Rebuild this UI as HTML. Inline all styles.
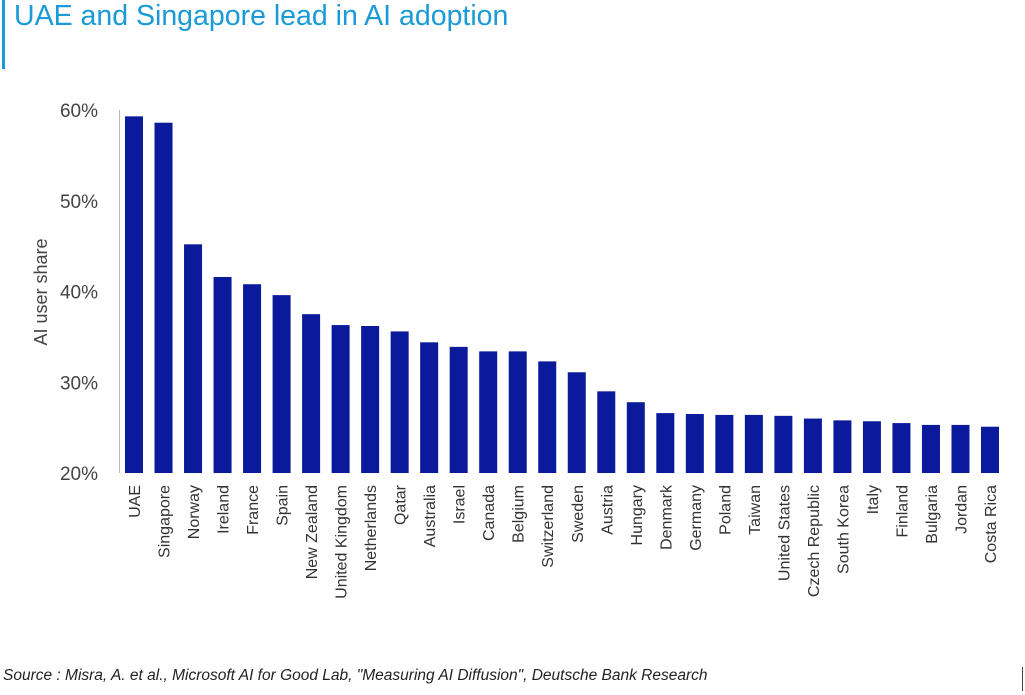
<!DOCTYPE html>
<html><head><meta charset="utf-8"><style>
html,body{margin:0;padding:0;background:#fff;}
body{width:1025px;height:695px;overflow:hidden;position:relative;font-family:"Liberation Sans",sans-serif;}
</style></head><body>
<div style="position:absolute;left:2px;top:0;width:3px;height:69px;background:#1a9ad6"></div>
<div style="position:absolute;left:14px;top:0px;font-size:28.5px;color:#1a9ad6;white-space:nowrap">UAE and Singapore lead in AI adoption</div>
<svg id="chart" width="1025" height="695" style="position:absolute;left:0;top:0"></svg>
<div style="position:absolute;left:3px;top:667px;font-size:15.5px;font-style:italic;color:#222;white-space:nowrap;">Source : Misra, A. et al., Microsoft AI for Good Lab, "Measuring AI Diffusion", Deutsche Bank Research</div>
<div style="position:absolute;left:1022px;top:667px;width:1px;height:24px;background:#444"></div>
<script>
const categories=["UAE","Singapore","Norway","Ireland","France","Spain","New Zealand","United Kingdom","Netherlands","Qatar","Australia","Israel","Canada","Belgium","Switzerland","Sweden","Austria","Hungary","Denmark","Germany","Poland","Taiwan","United  States","Czech Republic","South Korea","Italy","Finland","Bulgaria","Jordan","Costa Rica"];
const values=[59.3,58.6,45.2,41.6,40.8,39.6,37.5,36.3,36.2,35.6,34.4,33.9,33.4,33.4,32.3,31.1,29.0,27.8,26.6,26.5,26.4,26.4,26.3,26.0,25.8,25.7,25.5,25.3,25.3,25.1];
const tickValues=[20,30,40,50,60];
const tickLabels=["20%","30%","40%","50%","60%"];
const NS="http://www.w3.org/2000/svg";
const svg=document.getElementById('chart');
const y0=473,y1=110,vmin=20,vmax=60;
const yScale=v=>y0-(v-vmin)/(vmax-vmin)*(y0-y1);
const firstX=125,step=(981-125)/29,bw=18;
const xScale=i=>firstX+i*step;
function mk(tag,attrs){const e=document.createElementNS(NS,tag);for(const k in attrs)e.setAttribute(k,attrs[k]);svg.appendChild(e);return e;}
const ax=mk('line',{x1:119.5,x2:119.5,y1:y1,y2:y0,stroke:'#bbb','stroke-width':1});


tickValues.forEach((v,i)=>{
 const t=mk('text',{x:98,y:yScale(v)+7,'text-anchor':'end','font-size':19,fill:'#444','font-family':'Liberation Sans, sans-serif'});
 t.textContent=tickLabels[i];
 
 
});
const yt=mk('text',{x:0,y:0,'text-anchor':'middle','font-size':18,fill:'#444',transform:'translate(47,292) rotate(-90)','font-family':'Liberation Sans, sans-serif'});
yt.textContent='AI user share';


categories.forEach((c,i)=>{
 const x=xScale(i),top=yScale(values[i]);
 const r=mk('rect',{x:x,y:top,width:bw,height:y0-top,fill:'#0a1a9a'});
 
 
 const cx=x+bw/2+6;
 const t=mk('text',{x:0,y:0,'text-anchor':'end','font-size':16,fill:'#333',transform:`translate(${cx},485) rotate(-90)`,'font-family':'Liberation Sans, sans-serif','xml:space':'preserve'});
 t.textContent=c;
 
 
});
</script>
</body></html>
